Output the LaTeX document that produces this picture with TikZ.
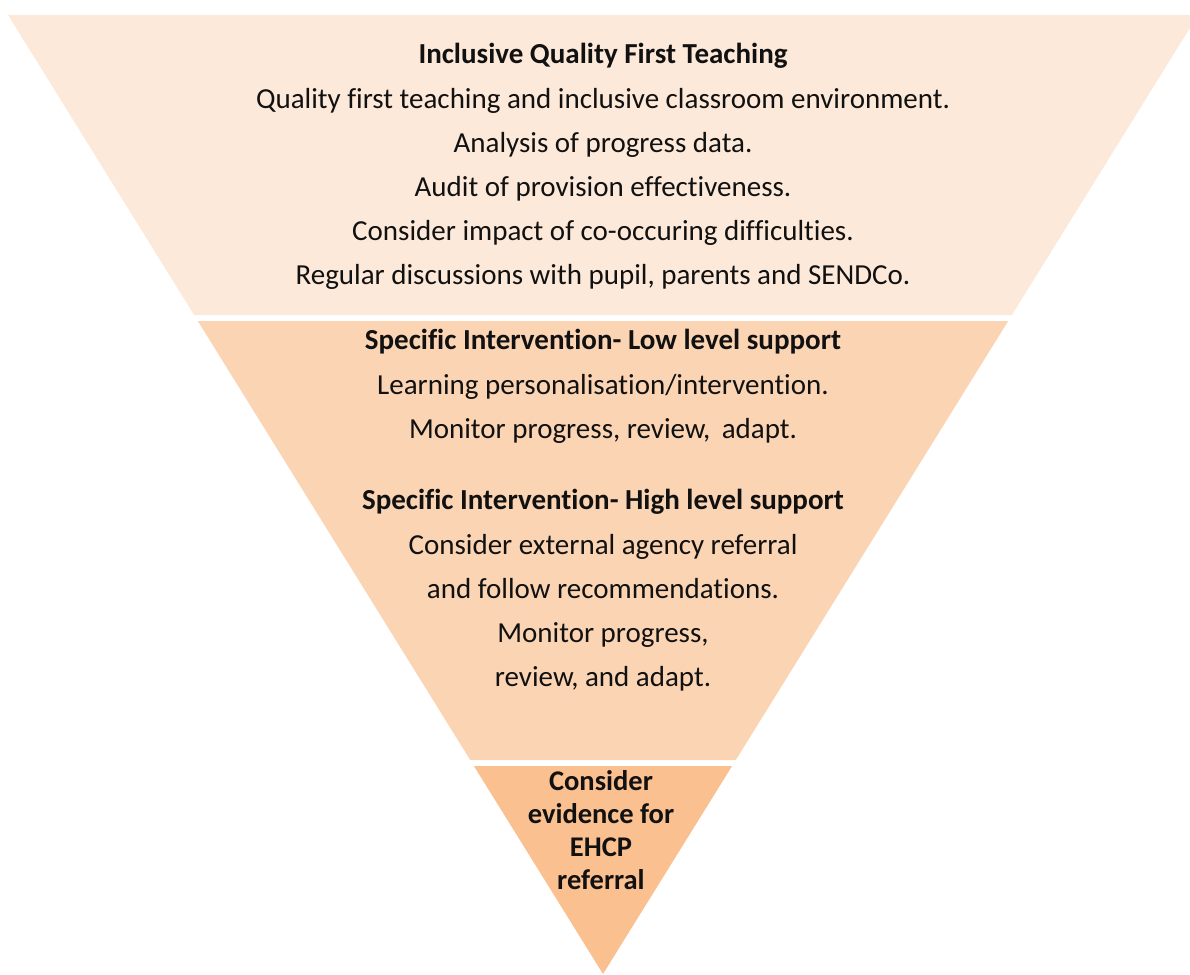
\documentclass[tikz,border=0pt]{standalone}
\usepackage{fontspec}
\setmainfont[Ligatures={NoCommon}]{Carlito}
\definecolor{bandA}{HTML}{FDE9D9}
\definecolor{bandB}{HTML}{FBD4B4}
\definecolor{bandC}{HTML}{FAC090}
\definecolor{txt}{HTML}{111111}
\begin{document}
\begin{tikzpicture}[x=1pt,y=-1pt,
  tline/.style={anchor=base,text=txt,inner sep=0pt,font=\fontsize{29}{34}\selectfont},
  ttitle/.style={tline,font=\fontsize{29}{34}\selectfont\bfseries},
  tsmall/.style={tline,font=\fontsize{28.5}{34}\selectfont\bfseries}]
\useasboundingbox (0,0) rectangle (1190,974);
\clip (0,0) rectangle (1190,974);
% bands
\fill[bandA] (8,15) -- (1198,15) -- (1011.9,315) -- (194.1,315) -- cycle;
\fill[bandB] (197.8,321) -- (1008.2,321) -- (735.8,760) -- (470.2,760) -- cycle;
\fill[bandC] (473.9,766) -- (732.1,766) -- (603,974) -- cycle;
% band 1
\node[ttitle] (t1) at (603,63.5) {Inclusive Quality First Teaching};
\node[tline] (a1) at (603,108) {Quality first teaching and inclusive classroom environment.};
\node[tline] (a2) at (603,152) {Analysis of progress data.};
\node[tline] (a3) at (603,196) {Audit of provision effectiveness.};
\node[tline] (a4) at (603,240) {Consider impact of co-occuring difficulties.};
\node[tline] (a5) at (603,284) {Regular discussions with pupil, parents and SENDCo.};
% band 2
\node[ttitle] (t2) at (603,349) {Specific Intervention- Low level support};
\node[tline] (b1) at (603,394) {Learning personalisation/intervention.};
\node[tline] (b2) at (603,438) {Monitor progress, review,\, adapt.};
\node[ttitle] (t3) at (603,509) {Specific Intervention- High level support};
\node[tline] (c1) at (603,554) {Consider external agency referral};
\node[tline] (c2) at (603,598) {and follow recommendations.};
\node[tline] (c3) at (603,642) {Monitor progress,};
\node[tline] (c4) at (603,686) {review, and adapt.};
% band 3
\node[tsmall] (d1) at (601,790) {Consider};
\node[tsmall] (d2) at (601,823) {evidence for};
\node[tsmall] (d3) at (601,856) {EHCP};
\node[tsmall] (d4) at (601,889) {referral};
\end{tikzpicture}
\end{document}
